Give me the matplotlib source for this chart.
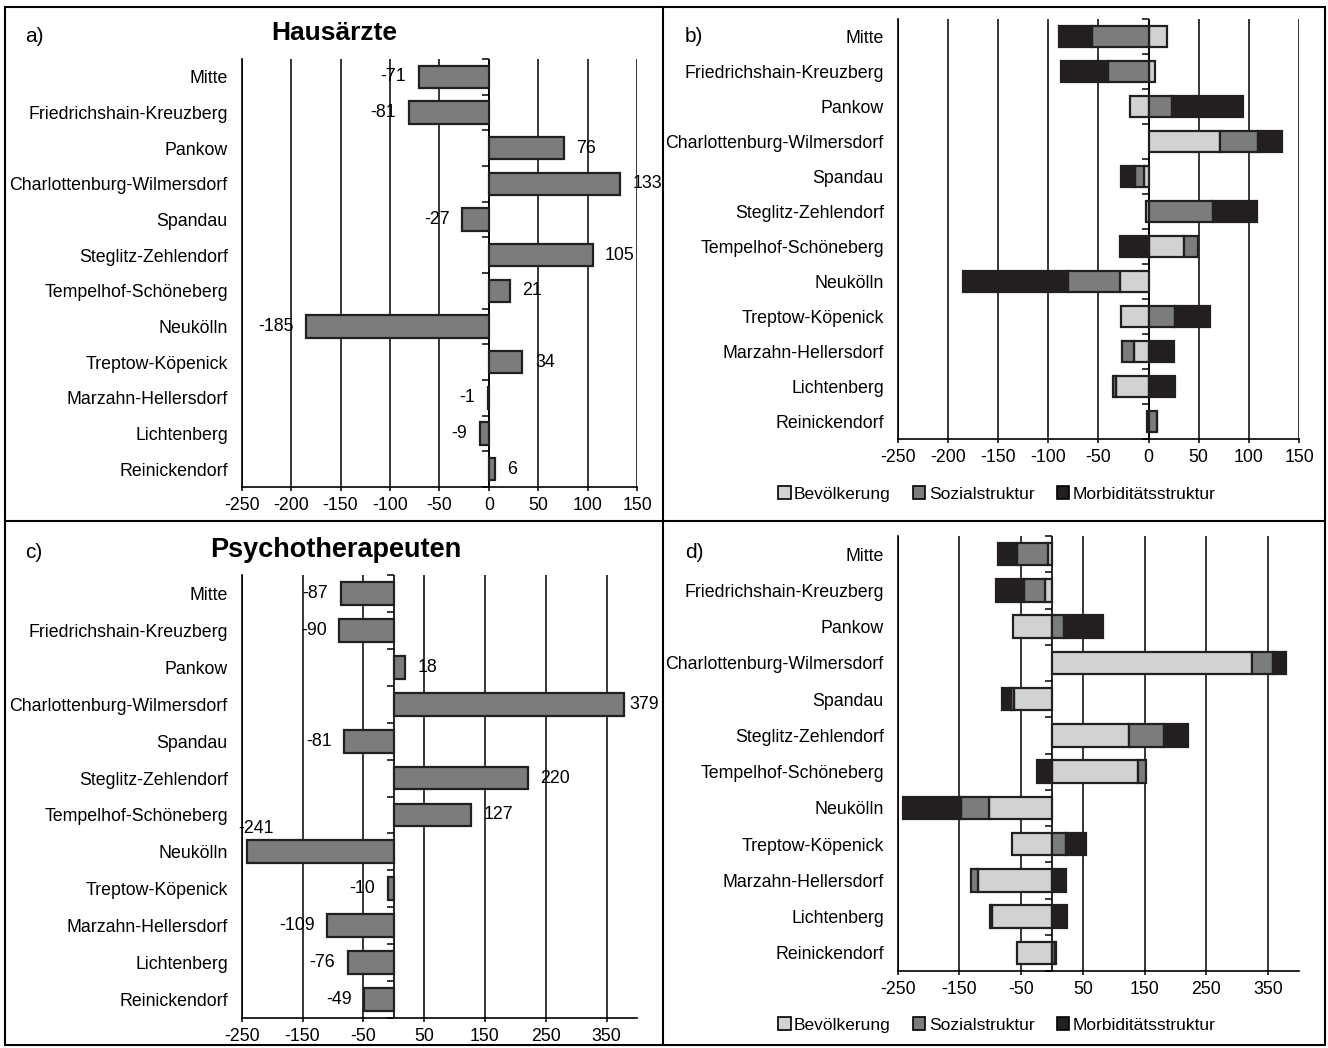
import matplotlib.pyplot as plt
import numpy as np
from matplotlib.patches import Patch, Rectangle
from matplotlib.lines import Line2D
from matplotlib.markers import TICKLEFT

plt.rcParams['font.family'] = ['Liberation Sans', 'DejaVu Sans']
plt.rcParams['axes.unicode_minus'] = False

districts = ['Mitte', 'Friedrichshain-Kreuzberg', 'Pankow', 'Charlottenburg-Wilmersdorf',
             'Spandau', 'Steglitz-Zehlendorf', 'Tempelhof-Schöneberg', 'Neukölln',
             'Treptow-Köpenick', 'Marzahn-Hellersdorf', 'Lichtenberg', 'Reinickendorf']

# Hausärzte
haus_total = [-71, -81, 76, 133, -27, 105, 21, -185, 34, -1, -9, 6]
haus_bev = [18, 6, -18, 71, -4, -3, 35, -28, -27, -14, -32, -2]
haus_soz = [-56, -40, 23, 38, -9, 64, 14, -52, 26, -12, -3, 8]
haus_morb = [-33, -47, 71, 24, -14, 44, -28, -105, 35, 25, 26, 0]

# Psychotherapeuten
psy_total = [-87, -90, 18, 379, -81, 220, 127, -241, -10, -109, -76, -49]
psy_bev = [-6, -11, -64, 324, -61, 125, 140, -102, -65, -120, -97, -56]
psy_soz = [-51, -35, 19, 34, -5, 57, 12, -45, 23, -12, -3, 4]
psy_morb = [-30, -44, 63, 21, -15, 38, -25, -94, 32, 23, 24, 3]

series_names = ['Bevölkerung', 'Sozialstruktur', 'Morbiditätsstruktur']
c_light = '#d0d2d3'
c_mid = '#7b7c7e'
c_dark = '#231f20'
colors = [c_light, c_mid, c_dark]

FS = 12.8
W = 1328
H = 1048
y = np.arange(len(districts))
bar_h = 0.62


def pos(l, t, r, b):
    return [l / W, 1 - b / H, (r - l) / W, (b - t) / H]


def setup(ax, xlim, ticks):
    ax.set_xlim(*xlim)
    ax.set_ylim(len(districts) - 0.5, -0.5)
    ax.set_xticks(ticks)
    ax.set_yticks(y, districts)
    ax.tick_params(axis='y', length=0, pad=10, labelsize=FS)
    ax.tick_params(axis='x', length=3, width=1.1, pad=4, labelsize=FS)
    ax.grid(axis='x', color='black', lw=1.1)
    ax.set_axisbelow(True)
    for s in ['top', 'right']:
        ax.spines[s].set_visible(False)
    for s in ['left', 'bottom']:
        ax.spines[s].set_linewidth(1.2)
    # category axis at zero with small ticks between the categories
    ax.axvline(0, color='black', lw=1.2, zorder=2)
    bounds = np.arange(-0.5, len(districts))
    ax.plot(np.zeros(len(bounds)), bounds, linestyle='none', marker=TICKLEFT,
            markersize=5, markeredgewidth=1.1, color='black', clip_on=False, zorder=2)


def stacked(ax, parts):
    pos_left = np.zeros(len(districts))
    neg_left = np.zeros(len(districts))
    for vals, col in zip(parts, colors):
        vals = np.array(vals, dtype=float)
        left = np.where(vals >= 0, pos_left, neg_left)
        ax.barh(y, vals, left=left, height=bar_h, color=col,
                edgecolor=c_dark, linewidth=1.6, zorder=3)
        pos_left = pos_left + np.where(vals >= 0, vals, 0)
        neg_left = neg_left + np.where(vals < 0, vals, 0)


def totals(ax, vals, special=None):
    special = special or {}
    ax.barh(y, vals, height=bar_h, color=c_mid, edgecolor=c_dark,
            linewidth=1.6, zorder=3)
    for i, v in enumerate(vals):
        if i in special:
            off, ha = special[i]
        else:
            off = (9 if v >= 0 else -9, 0)
            ha = 'left' if v >= 0 else 'right'
        ax.annotate(str(v), (v, i), xytext=off, textcoords='offset points',
                    ha=ha, va='center', fontsize=FS, zorder=4)


fig = plt.figure(figsize=(W / 100, H / 100), dpi=100)

ax_a = fig.add_axes(pos(241.7, 59, 637, 487))
setup(ax_a, (-250, 150), np.arange(-250, 151, 50))
totals(ax_a, haus_total)

ax_b = fig.add_axes(pos(897.7, 19, 1299, 439))
setup(ax_b, (-250, 150), np.arange(-250, 151, 50))
stacked(ax_b, [haus_bev, haus_soz, haus_morb])

ax_c = fig.add_axes(pos(241.7, 575, 637, 1018))
setup(ax_c, (-250, 400), np.arange(-250, 351, 100))
totals(ax_c, psy_total, special={3: ((4, 0), 'left'), 7: ((-6.5, 17), 'left')})

ax_d = fig.add_axes(pos(897.7, 536, 1299, 971))
setup(ax_d, (-250, 400), np.arange(-250, 351, 100))
stacked(ax_d, [psy_bev, psy_soz, psy_morb])

# titles and panel letters
fig.text(334 / W, 1 - 33 / H, 'Hausärzte', ha='center', va='center',
         fontsize=19, fontweight='bold')
fig.text(336 / W, 1 - 550 / H, 'Psychotherapeuten', ha='center', va='center',
         fontsize=19.5, fontweight='bold')
for lab, px, py in [('a)', 25, 36), ('b)', 685, 37), ('c)', 25, 553), ('d)', 685, 553)]:
    fig.text(px / W, 1 - py / H, lab, ha='left', va='center', fontsize=15)

# legends
handles = [Patch(facecolor=c, edgecolor='black', linewidth=1.2) for c in colors]
for py in [494, 1025]:
    fig.legend(handles, series_names, loc='center', bbox_to_anchor=(997 / W, 1 - py / H),
               ncol=3, frameon=False, fontsize=12.5, handlelength=0.7, handleheight=0.7,
               handletextpad=0.2, columnspacing=1.3, borderaxespad=0)

# panel frame
fig.add_artist(Rectangle((5 / W, 1 - 1045 / H), 1320 / W, 1038 / H, transform=fig.transFigure,
                         fill=False, edgecolor='black', linewidth=1.5))
fig.add_artist(Line2D([663 / W, 663 / W], [1 - 7 / H, 1 - 1045 / H], transform=fig.transFigure,
                      color='black', linewidth=1.5))
fig.add_artist(Line2D([5 / W, 1325 / W], [1 - 521 / H, 1 - 521 / H], transform=fig.transFigure,
                      color='black', linewidth=1.5))

fig.savefig('out.png', dpi=100)
